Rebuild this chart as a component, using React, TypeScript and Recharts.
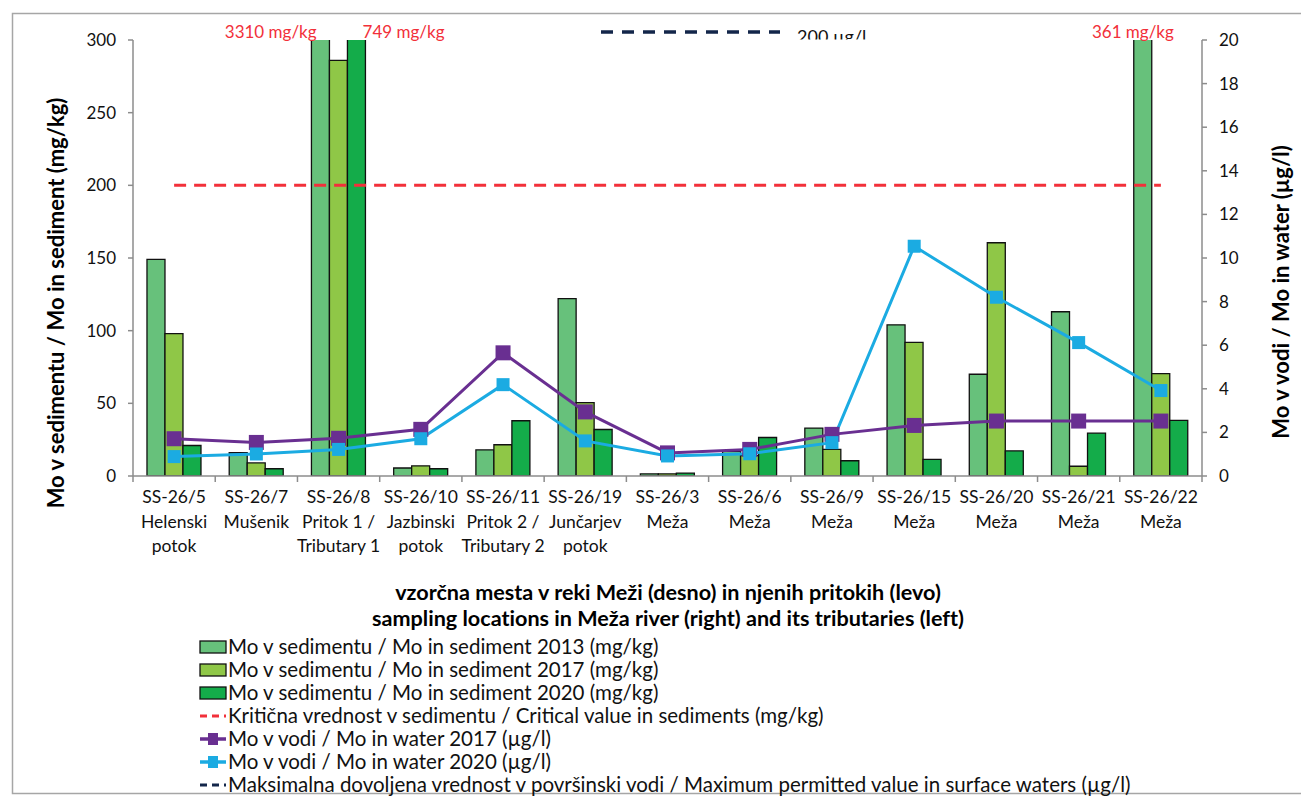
import React from 'react';
import { ComposedChart, Bar, Line, XAxis, YAxis } from 'recharts';

// ---------- data ----------
const sites = ['SS-26/5', 'SS-26/7', 'SS-26/8', 'SS-26/10', 'SS-26/11', 'SS-26/19', 'SS-26/3', 'SS-26/6', 'SS-26/9', 'SS-26/15', 'SS-26/20', 'SS-26/21', 'SS-26/22'];
const siteNames = ['Helenski\npotok', 'Mušenik', 'Pritok 1 /\nTributary 1', 'Jazbinski\npotok', 'Pritok 2 /\nTributary 2', 'Jun\u010darjev\npotok', 'Meža', 'Meža', 'Meža', 'Meža', 'Meža', 'Meža', 'Meža'];
const sediment2013 = [149, 16, 3310, 5.5, 18, 122, 1.5, 17, 33, 104, 70, 113, 361];
const sediment2017 = [98, 9, 286, 7, 21.5, 50.5, 1.5, 14, 18.3, 92, 160.5, 6.7, 70.5];
const sediment2020 = [21, 5, 749, 5, 38, 32, 2, 26.5, 10.5, 11.5, 17.3, 29.5, 38.3];
const water2017 = [1.71, 1.54, 1.73, 2.14, 5.65, 2.94, 1.06, 1.22, 1.91, 2.32, 2.52, 2.52, 2.52];
const water2020 = [0.89, 1.01, 1.22, 1.71, 4.19, 1.61, 0.92, 1.02, 1.53, 10.54, 8.2, 6.12, 3.92];
const criticalSediment = 200; // mg/kg
const maxWater = 200; // µg/l
const leftTicks = [0, 50, 100, 150, 200, 250, 300];
const rightTicks = [0, 2, 4, 6, 8, 10, 12, 14, 16, 18, 20];

const seriesLabels = [
  'Mo v sedimentu / Mo in sediment 2013 (mg/kg)',
  'Mo v sedimentu / Mo in sediment 2017 (mg/kg)',
  'Mo v sedimentu / Mo in sediment 2020 (mg/kg)',
  'Kritična vrednost v sedimentu / Critical value in sediments (mg/kg)',
  'Mo v vodi / Mo in water 2017 (µg/l)',
  'Mo v vodi / Mo in water 2020 (µg/l)',
  'Maksimalna dovoljena vrednost v površinski vodi / Maximum permitted value in surface waters (µg/l)',
];
const xTitle = ['vzorčna mesta v reki Meži (desno) in njenih pritokih (levo)', 'sampling locations in Meža river (right) and its tributaries (left)'];
const leftTitle = 'Mo v sedimentu / Mo in sediment (mg/kg)';
const rightTitle = 'Mo v vodi / Mo in water (µg/l)';

// ---------- style ----------
const FONT = 'Lato, "Open Sans", sans-serif';
const AXIS = '#8c8c8c';
const C2013 = '#67C17B';
const C2017 = '#8FC747';
const C2020 = '#14AC4A';
const PURPLE = '#692F91';
const CYAN = '#1BABE2';
const RED = '#F2303A';
const NAVY = '#13264A';
const LEFT_MAX = 300;
const PLOT_TOP = 40;
const PLOT_BOTTOM = 476;

const data = sites.map((s, i) => ({
  site: s,
  name: siteNames[i],
  s2013: sediment2013[i],
  s2017: sediment2017[i],
  s2020: sediment2020[i],
  crit: criticalSediment,
  w2017: water2017[i],
  w2020: water2020[i],
}));

const SiteTick = (props: any) => {
  const { x, y, payload, index } = props;
  const half = typeof payload?.offset === 'number' && payload.offset > 0 ? payload.offset : 41.1;
  const d = data[index];
  const lines = [d.site, ...d.name.split('\n')];
  const annY = y - (PLOT_BOTTOM - PLOT_TOP) - 2;
  const over13 = d.s2013 > LEFT_MAX;
  const over20 = d.s2020 > LEFT_MAX;
  return (
    <g>
      <line x1={x - half} x2={x - half} y1={y} y2={y + 6} stroke={AXIS} strokeWidth={1.5} />
      {index === data.length - 1 && <line x1={x + half} x2={x + half} y1={y} y2={y + 6} stroke={AXIS} strokeWidth={1.5} />}
      {lines.map((l, k) => (
        <text key={k} x={x} y={y + 27 + k * 24.5} textAnchor="middle" fontFamily={FONT} fontSize={17.5} fill="#111">{l}</text>
      ))}
      {over13 && (
        <text x={over20 ? x - 22 : x - 28} y={annY} textAnchor={over20 ? 'end' : 'middle'} fontFamily={FONT} fontSize={17} fill={RED}>{`${d.s2013} mg/kg`}</text>
      )}
      {over20 && (
        <text x={x + 24} y={annY} textAnchor="start" fontFamily={FONT} fontSize={17} fill={RED}>{`${d.s2020} mg/kg`}</text>
      )}
    </g>
  );
};

const squareDot = (color: string, size: number) => (p: any) => {
  const { cx, cy, index } = p;
  if (cx == null || cy == null) return <g key={`e${index}`} />;
  return <rect key={`d${index}`} x={cx - size / 2} y={cy - size / 2} width={size} height={size} fill={color} />;
};

const tickStyle = { fontFamily: FONT, fontSize: 17, fill: '#111' };

const LegendIcon = ({ k, cy }: { k: number; cy: number }) => {
  const x0 = 200, x1 = 226;
  if (k < 3) {
    const fill = [C2013, C2017, C2020][k];
    return <rect x={x0} y={cy - 6} width={x1 - x0} height={12} fill={fill} stroke="#111" strokeWidth={1.3} />;
  }
  if (k === 3 || k === 6) {
    return <line x1={x0} x2={x1} y1={cy} y2={cy} stroke={k === 3 ? RED : NAVY} strokeWidth={3} strokeDasharray="7 5" />;
  }
  const c = k === 4 ? PURPLE : CYAN;
  return (
    <g>
      <line x1={x0} x2={x1} y1={cy} y2={cy} stroke={c} strokeWidth={3.5} />
      <rect x={(x0 + x1) / 2 - 5} y={cy - 6} width={10} height={12} fill={c} />
    </g>
  );
};

export default function App() {
  return (
    <div style={{ position: 'absolute', left: 0, top: 0, width: 1301, height: 796, background: '#fff', overflow: 'hidden' }}>
      <ComposedChart
        width={1301}
        height={796}
        data={data}
        margin={{ top: PLOT_TOP, right: 0, bottom: 240, left: 0 }}
        barCategoryGap="17%"
        barGap={0}
      >
        <XAxis
          dataKey="site"
          height={80}
          interval={0}
          tickLine={false}
          tickSize={0}
          tickMargin={0}
          axisLine={{ stroke: AXIS, strokeWidth: 1.5 }}
          tick={<SiteTick />}
        />
        <YAxis
          yAxisId="left"
          orientation="left"
          width={133}
          domain={[0, LEFT_MAX]}
          ticks={leftTicks}
          allowDataOverflow
          tickSize={5}
          tickMargin={12}
          axisLine={{ stroke: AXIS, strokeWidth: 1.5 }}
          tickLine={{ stroke: AXIS, strokeWidth: 1.5 }}
          tick={tickStyle}
        />
        <YAxis
          yAxisId="right"
          orientation="right"
          width={99}
          domain={[0, 20]}
          ticks={rightTicks}
          allowDataOverflow
          tickSize={5}
          tickMargin={12}
          axisLine={{ stroke: AXIS, strokeWidth: 1.5 }}
          tickLine={{ stroke: AXIS, strokeWidth: 1.5 }}
          tick={tickStyle}
        />
        <Bar yAxisId="left" dataKey="s2013" fill={C2013} stroke="#111" strokeWidth={1.3} isAnimationActive={false} />
        <Bar yAxisId="left" dataKey="s2017" fill={C2017} stroke="#111" strokeWidth={1.3} isAnimationActive={false} />
        <Bar yAxisId="left" dataKey="s2020" fill={C2020} stroke="#111" strokeWidth={1.3} isAnimationActive={false} />
        <Line yAxisId="left" dataKey="crit" stroke={RED} strokeWidth={3} strokeDasharray="12 8" dot={false} activeDot={false} isAnimationActive={false} />
        <Line yAxisId="right" dataKey="w2017" stroke={PURPLE} strokeWidth={3} dot={squareDot(PURPLE, 15)} activeDot={false} isAnimationActive={false} />
        <Line yAxisId="right" dataKey="w2020" stroke={CYAN} strokeWidth={3} dot={squareDot(CYAN, 13)} activeDot={false} isAnimationActive={false} />
      </ComposedChart>

      <svg width={1301} height={796} style={{ position: 'absolute', left: 0, top: 0, pointerEvents: 'none' }}>
        <defs>
          <clipPath id="topclip">
            <rect x={0} y={0} width={1301} height={39.5} />
          </clipPath>
        </defs>
        <rect x={12.5} y={13.5} width={1300} height={780} fill="none" stroke="#A6A6A6" strokeWidth={1.5} />
        {/* maximum permitted value in water marker */}
        <line x1={601} x2={780} y1={32} y2={32} stroke={NAVY} strokeWidth={3.5} strokeDasharray="12 9" />
        <g clipPath="url(#topclip)">
          <text x={797} y={43} fontFamily={FONT} fontSize={18} fill="#111">{`${maxWater} µg/l`}</text>
        </g>
        {/* axis titles */}
        <text transform="translate(64,303) rotate(-90)" textAnchor="middle" fontFamily={FONT} fontSize={22} fontWeight={700} fill="#000">{leftTitle}</text>
        <text transform="translate(1289,292) rotate(-90)" textAnchor="middle" fontFamily={FONT} fontSize={22} fontWeight={700} fill="#000">{rightTitle}</text>
        {xTitle.map((t, k) => (
          <text key={k} x={668} y={600 + k * 26} textAnchor="middle" fontFamily={FONT} fontSize={21.6} fontWeight={700} fill="#000" style={{ fontVariantLigatures: 'none' }}>{t}</text>
        ))}
        {/* legend */}
        {seriesLabels.map((t, k) => {
          const cy = 647 + k * 23;
          return (
            <g key={k}>
              <LegendIcon k={k} cy={cy} />
              <text x={228} y={cy + 7} fontFamily={FONT} fontSize={20.5} fill="#111">{t}</text>
            </g>
          );
        })}
      </svg>
    </div>
  );
}
